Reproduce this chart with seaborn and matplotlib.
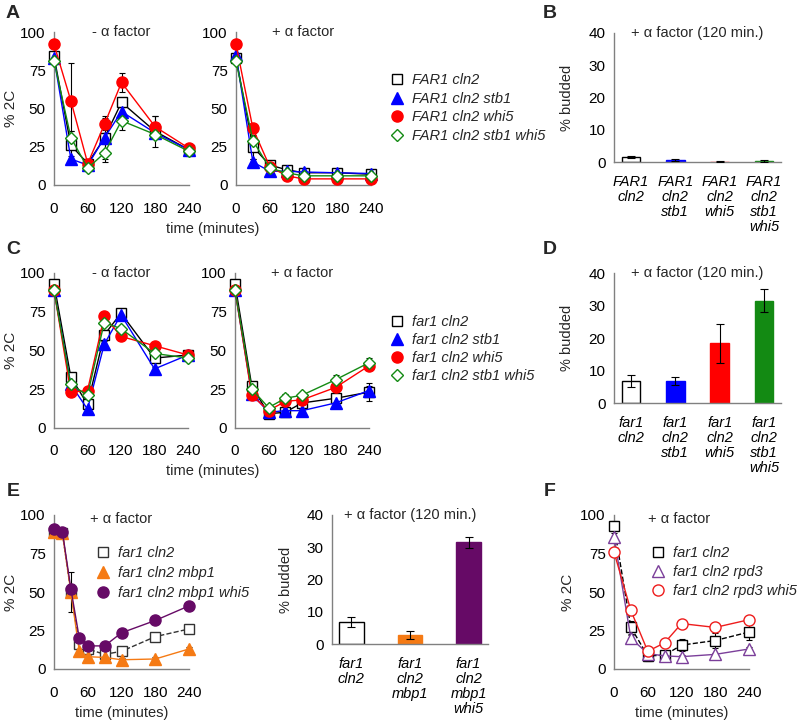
import matplotlib
matplotlib.use("Agg")
import matplotlib.pyplot as plt
from matplotlib.lines import Line2D
import seaborn as sns

# ===============================
# Data
# ===============================
times_ac = [0, 30, 60, 90, 120, 180, 240]
times_e = [0, 15, 30, 45, 60, 90, 120, 180, 240]
times_f = [0, 30, 60, 90, 120, 180, 240]

# A: FAR1 strains, - alpha factor
a_minus_cln2 = [84, 26, 14, 31, 54, 35, 23]
a_minus_stb1 = [83, 17, 13, 31, 48, 34, 23]
a_minus_whi5 = [92, 55, 14, 40, 67, 38, 24]
a_minus_stb1_whi5 = [81, 31, 11, 21, 42, 33, 22]
a_minus_cln2_err = [2, 9, 2, 14, 3, 10, 4]
a_minus_stb1_err = [1, 2, 1, 3, 3, 2, 2]
a_minus_whi5_err = [1, 25, 1, 4, 6, 7, 3]
a_minus_stb1_whi5_err = [1, 4, 1, 6, 6, 3, 2]

# A: FAR1 strains, + alpha factor
a_plus_cln2 = [83, 25, 13, 10, 8, 8, 7]
a_plus_stb1 = [85, 15, 9, 9, 8.5, 8, 7.5]
a_plus_whi5 = [92, 37, 12, 6, 4, 4, 4]
a_plus_stb1_whi5 = [81, 29, 11, 8, 6, 6, 6]
a_plus_cln2_err = [2, 8, 2, 2, 1, 1, 1]
a_plus_stb1_err = [1, 2, 1, 1, 1, 1, 1]
a_plus_whi5_err = [1, 3, 1, 1, 1, 1, 1]
a_plus_stb1_whi5_err = [1, 3, 1, 1, 1, 1, 1]

# C: far1 strains, - alpha factor
c_minus_cln2 = [93, 33, 15, 60, 74, 45, 47]
c_minus_stb1 = [89, 28, 12, 54, 73, 38, 47]
c_minus_whi5 = [89, 23, 24, 72, 59, 53, 47]
c_minus_stb1_whi5 = [89, 28, 21, 68, 64, 48, 45]
c_minus_cln2_err = [2, 2, 2, 3, 3, 2, 2]
c_minus_stb1_err = [1, 2, 1, 2, 2, 1, 3]
c_minus_whi5_err = [1, 1, 1, 1, 1, 1, 1]
c_minus_stb1_whi5_err = [1, 1, 1, 1, 1, 1, 1]

# C: far1 strains, + alpha factor
c_plus_cln2 = [93, 27, 9, 10, 16, 19, 23]
c_plus_stb1 = [89, 22, 10, 11, 11, 16, 24]
c_plus_whi5 = [89, 21, 11, 17, 18, 26, 40]
c_plus_stb1_whi5 = [89, 25, 13, 19, 21, 31, 42]
c_plus_cln2_err = [2, 2, 1, 1, 3, 2, 6]
c_plus_stb1_err = [1, 1, 1, 1, 1, 2, 3]
c_plus_whi5_err = [1, 1, 1, 2, 2, 3, 2]
c_plus_stb1_whi5_err = [1, 1, 1, 2.5, 1, 3, 3]

# E: mbp1 time course, + alpha factor
e_cln2 = [89, 88, 50, 16, 13, 9.5, 11.5, 21, 26]
e_mbp1 = [89, 88, 50, 11.5, 8, 7.5, 6, 6.5, 13]
e_mbp1_whi5 = [91, 89, 52, 20, 15, 15, 23.5, 31.5, 41]
e_cln2_err = [1, 1, 13, 2, 2, 1, 1, 1, 1]
e_mbp1_err = [1, 1, 3, 2, 1, 1, 1, 1, 1.5]
e_mbp1_whi5_err = [1, 1, 3, 2, 1, 1, 1, 1, 1]

# F: rpd3 time course, + alpha factor
f_cln2 = [93, 27, 8.5, 9, 15.5, 18.5, 24]
f_rpd3 = [86, 20, 10, 8.5, 8, 9.5, 13]
f_rpd3_whi5 = [76, 38, 11.5, 17, 29.5, 27, 32]
f_cln2_err = [3, 4, 3, 1, 4, 5, 5]
f_rpd3_err = [2, 2, 1, 1, 1, 1, 1]
f_rpd3_whi5_err = [1, 1, 1, 1, 1, 1, 1]

# budding index at 120 min
b_labels = ["FAR1\ncln2", "FAR1\ncln2\nstb1", "FAR1\ncln2\nwhi5", "FAR1\ncln2\nstb1\nwhi5"]
b_budded = [1.5, 0.7, 0.2, 0.4]
b_err = [0.3, 0.3, 0.1, 0.2]

d_labels = ["far1\ncln2", "far1\ncln2\nstb1", "far1\ncln2\nwhi5", "far1\ncln2\nstb1\nwhi5"]
d_budded = [6.9, 6.9, 18.5, 31.6]
d_err = [1.8, 1.2, 6.0, 3.6]

e_labels = ["far1\ncln2", "far1\ncln2\nmbp1", "far1\ncln2\nmbp1\nwhi5"]
e_budded = [6.9, 2.9, 31.5]
e_bar_err = [1.7, 1.2, 1.8]

legend_far1_upper = ["FAR1 cln2", "FAR1 cln2 stb1", "FAR1 cln2 whi5", "FAR1 cln2 stb1 whi5"]
legend_far1_lower = ["far1 cln2", "far1 cln2 stb1", "far1 cln2 whi5", "far1 cln2 stb1 whi5"]
legend_e = ["far1 cln2", "far1 cln2 mbp1", "far1 cln2 mbp1 whi5"]
legend_f = ["far1 cln2", "far1 cln2 rpd3", "far1 cln2 rpd3 whi5"]

# ===============================
# Styles
# ===============================
BLUE, RED, GREEN = "#0000ff", "#ff0000", "#138a13"
ORANGE, PURPLE = "#f57a14", "#660a66"
GRAY = "#808080"

sty_cln2 = dict(color="black", marker="s", ms=7.5, mfc="white", ls="-")
sty_stb1 = dict(color=BLUE, marker="^", ms=8, mfc=BLUE, ls="-")
sty_whi5 = dict(color=RED, marker="o", ms=8, mfc=RED, ls="-")
sty_sw = dict(color=GREEN, marker="D", ms=6.5, mfc="white", ls="-")
sty_e_cln2 = dict(color="#333333", marker="s", ms=7.5, mfc="white", ls="--")
sty_e_mbp1 = dict(color=ORANGE, marker="^", ms=8, mfc=ORANGE, ls="-")
sty_e_mw = dict(color=PURPLE, marker="o", ms=8, mfc=PURPLE, ls="-")
sty_f_cln2 = dict(color="black", marker="s", ms=7.5, mfc="white", ls="--")
sty_f_rpd3 = dict(color="#7b3f9a", marker="^", ms=8, mfc="white", ls="-")
sty_f_rw = dict(color="#ee1c1c", marker="o", ms=8, mfc="white", ls="-")

TICK_SIZE = 11
TEXT_SIZE = 10.5

sns.set_style("white")
plt.rcParams["font.family"] = ["Liberation Sans", "DejaVu Sans"]

W, H = 800, 724
fig = plt.figure(figsize=(W / 100, H / 100), dpi=100)


def add_ax(x0, x1, ytop, ybot):
    return fig.add_axes([x0 / W, 1 - ybot / H, (x1 - x0) / W, (ybot - ytop) / H])


def style_common(ax):
    sns.despine(ax=ax)
    for s in ("left", "bottom"):
        ax.spines[s].set_color(GRAY)
        ax.spines[s].set_linewidth(1)
    ax.tick_params(axis="both", which="both", direction="out", color=GRAY,
                   labelsize=TICK_SIZE, labelcolor="black")
    ax.set_xlabel("")
    ax.set_ylabel("")


def style_time_ax(ax):
    style_common(ax)
    ax.set_xlim(0, 240)
    ax.set_ylim(0, 100)
    ax.set_xticks([0, 60, 120, 180, 240])
    ax.set_xticks([30, 90, 150, 210], minor=True)
    ax.set_yticks([0, 25, 50, 75, 100])
    ax.tick_params(axis="x", which="both", length=4, width=1, pad=8)
    ax.tick_params(axis="y", which="both", length=4, width=1, pad=2)


def style_bar_ax(ax, labels):
    style_common(ax)
    ax.set_ylim(0, 40)
    ax.set_yticks([0, 10, 20, 30, 40])
    ax.set_yticks([5, 15, 25, 35], minor=True)
    ax.tick_params(axis="y", which="major", length=4, width=1, pad=2)
    ax.tick_params(axis="y", which="minor", length=3, width=1)
    ax.tick_params(axis="x", length=0, pad=9)
    ax.set_xticks(range(len(labels)))
    ax.set_xticklabels(labels, fontstyle="italic", fontsize=TEXT_SIZE, linespacing=1.1, va="top")


def draw_series(ax, times, vals, errs, st):
    ax.errorbar(times, vals, yerr=errs, fmt="none", ecolor="black", elinewidth=0.8,
                capsize=2.5, capthick=0.8, zorder=2, clip_on=False)
    sns.lineplot(x=times, y=vals, ax=ax, errorbar=None, color=st["color"],
                 marker=st["marker"], markersize=st["ms"], markerfacecolor=st["mfc"],
                 markeredgecolor=st["color"], markeredgewidth=1, linestyle=st["ls"],
                 linewidth=1, clip_on=False, zorder=3)


def draw_bars(ax, labels, vals, errs, colors, edges):
    sns.barplot(x=labels, y=vals, hue=labels, palette=dict(zip(labels, colors)),
                legend=False, width=0.42, saturation=1, ax=ax)
    for patch, ec in zip(ax.patches, edges):
        patch.set_edgecolor(ec)
        patch.set_linewidth(1)
    ax.errorbar(range(len(vals)), vals, yerr=errs, fmt="none", ecolor="black",
                elinewidth=0.8, capsize=3, capthick=0.8, zorder=4)


def add_legend(ax, styles, labels, x, ytop, spacing):
    handles = [Line2D([], [], linestyle="none", marker=st["marker"], markersize=st["ms"],
                      markerfacecolor=st["mfc"], markeredgecolor=st["color"],
                      markeredgewidth=1) for st in styles]
    ax.legend(handles, labels, loc="upper left", bbox_to_anchor=(x / W, 1 - ytop / H),
              bbox_transform=fig.transFigure, frameon=False, handlelength=1.0,
              handletextpad=0.5, borderpad=0, borderaxespad=0, labelspacing=spacing,
              prop=dict(style="italic", size=TEXT_SIZE))


def ax_title(ax, text, x=0.5, ha="center"):
    ax.text(x, 1.0, text, transform=ax.transAxes, ha=ha, va="center", fontsize=TEXT_SIZE)


# ===============================
# Panel A
# ===============================
ax = add_ax(54, 189, 32, 185)
for v, e, st in [(a_minus_cln2, a_minus_cln2_err, sty_cln2), (a_minus_stb1, a_minus_stb1_err, sty_stb1),
                 (a_minus_whi5, a_minus_whi5_err, sty_whi5), (a_minus_stb1_whi5, a_minus_stb1_whi5_err, sty_sw)]:
    draw_series(ax, times_ac, v, e, st)
style_time_ax(ax)
ax_title(ax, "- α factor")

ax = add_ax(236, 371, 32, 185)
for v, e, st in [(a_plus_cln2, a_plus_cln2_err, sty_cln2), (a_plus_stb1, a_plus_stb1_err, sty_stb1),
                 (a_plus_whi5, a_plus_whi5_err, sty_whi5), (a_plus_stb1_whi5, a_plus_stb1_whi5_err, sty_sw)]:
    draw_series(ax, times_ac, v, e, st)
style_time_ax(ax)
ax_title(ax, "+ α factor")
add_legend(ax, [sty_cln2, sty_stb1, sty_whi5, sty_sw], legend_far1_upper, 390, 73, 0.32)

# ===============================
# Panel B
# ===============================
ax = add_ax(614, 781, 32.7, 162.3)
draw_bars(ax, b_labels, b_budded, b_err, ["white", BLUE, RED, GREEN], ["black", BLUE, RED, GREEN])
style_bar_ax(ax, b_labels)
ax_title(ax, "+ α factor (120 min.)")

# ===============================
# Panel C
# ===============================
ax = add_ax(54, 188, 273, 427.7)
for v, e, st in [(c_minus_cln2, c_minus_cln2_err, sty_cln2), (c_minus_stb1, c_minus_stb1_err, sty_stb1),
                 (c_minus_whi5, c_minus_whi5_err, sty_whi5), (c_minus_stb1_whi5, c_minus_stb1_whi5_err, sty_sw)]:
    draw_series(ax, times_ac, v, e, st)
style_time_ax(ax)
ax_title(ax, "- α factor")

ax = add_ax(235, 369, 273, 427.7)
for v, e, st in [(c_plus_cln2, c_plus_cln2_err, sty_cln2), (c_plus_stb1, c_plus_stb1_err, sty_stb1),
                 (c_plus_whi5, c_plus_whi5_err, sty_whi5), (c_plus_stb1_whi5, c_plus_stb1_whi5_err, sty_sw)]:
    draw_series(ax, times_ac, v, e, st)
style_time_ax(ax)
ax_title(ax, "+ α factor")
add_legend(ax, [sty_cln2, sty_stb1, sty_whi5, sty_sw], legend_far1_lower, 390, 315, 0.27)

# ===============================
# Panel D
# ===============================
ax = add_ax(614, 781, 273.3, 403.3)
draw_bars(ax, d_labels, d_budded, d_err, ["white", BLUE, RED, GREEN], ["black", BLUE, RED, GREEN])
style_bar_ax(ax, d_labels)
ax_title(ax, "+ α factor (120 min.)")

# ===============================
# Panel E
# ===============================
ax = add_ax(54, 189, 515, 669)
for v, e, st in [(e_cln2, e_cln2_err, sty_e_cln2), (e_mbp1, e_mbp1_err, sty_e_mbp1),
                 (e_mbp1_whi5, e_mbp1_whi5_err, sty_e_mw)]:
    draw_series(ax, times_e, v, e, st)
style_time_ax(ax)
ax.text((90 - 54) / 135, 1 - 4 / 154, "+ α factor", transform=ax.transAxes, ha="left",
        va="center", fontsize=TEXT_SIZE)
add_legend(ax, [sty_e_cln2, sty_e_mbp1, sty_e_mw], legend_e, 96, 546, 0.42)

ax = add_ax(332, 488, 515, 644.3)
draw_bars(ax, e_labels, e_budded, e_bar_err, ["white", ORANGE, PURPLE], ["black", ORANGE, PURPLE])
style_bar_ax(ax, e_labels)
ax_title(ax, "+ α factor (120 min.)")

# ===============================
# Panel F
# ===============================
ax = add_ax(614, 749, 515, 669)
for v, e, st in [(f_cln2, f_cln2_err, sty_f_cln2), (f_rpd3, f_rpd3_err, sty_f_rpd3),
                 (f_rpd3_whi5, f_rpd3_whi5_err, sty_f_rw)]:
    draw_series(ax, times_f, v, e, st)
style_time_ax(ax)
ax.text((648 - 614) / 135, 1 - 4 / 154, "+ α factor", transform=ax.transAxes, ha="left",
        va="center", fontsize=TEXT_SIZE)
add_legend(ax, [sty_f_cln2, sty_f_rpd3, sty_f_rw], legend_f, 651, 546, 0.36)

# ===============================
# Shared labels and panel letters
# ===============================
def ftext(x, y, s, **kw):
    fig.text(x / W, 1 - y / H, s, ha="center", va="center", **kw)


for x, y in [(213, 229), (213, 471.5), (122, 713), (682, 713)]:
    ftext(x, y, "time (minutes)", fontsize=TEXT_SIZE)
for x, y in [(11, 108.5), (11, 350), (11, 592), (568, 592)]:
    ftext(x, y, "% 2C", fontsize=TICK_SIZE, rotation=90)
for x, y in [(567, 97.5), (567, 338), (286, 580)]:
    ftext(x, y, "% budded", fontsize=TEXT_SIZE, rotation=90)
for x, y, s in [(13, 13, "A"), (550, 13, "B"), (13, 249, "C"), (550, 249, "D"),
                (13, 492, "E"), (550, 492, "F")]:
    ftext(x, y, s, fontsize=14, fontweight="bold")

fig.savefig("out.png", dpi=100)
